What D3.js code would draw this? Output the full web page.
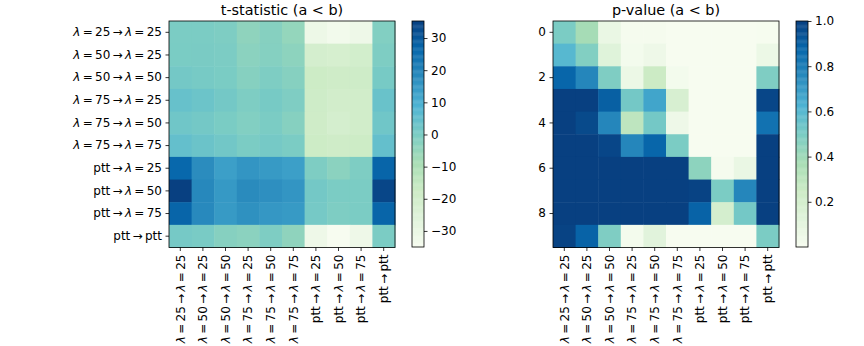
<!DOCTYPE html>
<html>
<head>
<meta charset="utf-8">
<script src="https://cdn.jsdelivr.net/npm/d3@7"></script>
<style>
  body { margin: 0; background: #fff; }
  text { font-family: "DejaVu Sans", sans-serif; fill: #000; }
</style>
</head>
<body>
<div id="app"></div>
<script>
`use strict`;

const labels = [
  `λ = 25 → λ = 25`, `λ = 50 → λ = 25`, `λ = 50 → λ = 50`, `λ = 75 → λ = 25`, `λ = 75 → λ = 50`,
  `λ = 75 → λ = 75`, `ptt → λ = 25`, `ptt → λ = 50`, `ptt → λ = 75`, `ptt → ptt`
];

const tStat = [
  [0.2, 0.1, -0.5, -3.7, -2.0, -4.8, -31.1, -33.2, -31.5, -1.3],
  [0.3, 0.4, 0.0, -3.0, -1.9, -3.4, -21.0, -21.6, -20.2, -0.5],
  [1.6, 0.9, 0.3, -2.0, -0.5, -2.0, -18.0, -18.8, -18.5, 0.9],
  [4.0, 3.0, 1.6, -0.5, 0.9, -0.6, -18.5, -20.0, -19.5, 3.7],
  [2.3, 1.6, 0.3, -1.3, 0.1, -2.0, -18.8, -21.0, -19.5, 2.3],
  [4.7, 3.3, 1.9, 0.2, 1.2, 0.1, -18.0, -18.8, -18.0, 4.7],
  [26.5, 17.7, 13.5, 15.6, 14.6, 13.5, -0.5, -3.0, -0.5, 27.2],
  [35.3, 18.8, 14.9, 18.0, 17.0, 15.6, 1.6, 0.2, 0.2, 33.9],
  [27.2, 18.4, 14.6, 16.7, 15.3, 14.6, 1.2, -0.5, 0.2, 27.2],
  [1.2, 0.5, -2.0, -3.0, -0.5, -3.7, -31.5, -35.0, -31.5, 0.2]
];

const pValue = [
  [0.50, 0.38, 0.07, 0.01, 0.01, 0.00, 0.00, 0.00, 0.00, 0.005],
  [0.60, 0.48, 0.13, 0.02, 0.05, 0.00, 0.00, 0.00, 0.00, 0.06],
  [0.88, 0.77, 0.49, 0.06, 0.25, 0.02, 0.00, 0.00, 0.00, 0.49],
  [1.00, 1.00, 0.90, 0.52, 0.67, 0.18, 0.00, 0.00, 0.00, 0.98],
  [1.00, 0.97, 0.77, 0.30, 0.52, 0.05, 0.00, 0.00, 0.00, 0.84],
  [1.00, 1.00, 0.98, 0.77, 0.88, 0.50, 0.00, 0.00, 0.00, 1.00],
  [1.00, 1.00, 1.00, 1.00, 1.00, 1.00, 0.45, 0.01, 0.07, 1.00],
  [1.00, 1.00, 1.00, 1.00, 1.00, 1.00, 0.99, 0.50, 0.77, 1.00],
  [1.00, 1.00, 1.00, 1.00, 1.00, 1.00, 0.89, 0.20, 0.52, 1.00],
  [0.99, 0.89, 0.49, 0.02, 0.12, 0.00, 0.00, 0.00, 0.00, 0.50]
];

const tTicks = [-30, -20, -10, 0, 10, 20, 30];
const pTicks = [0.2, 0.4, 0.6, 0.8, 1.0];
const pRowTicks = [0, 2, 4, 6, 8];

// matplotlib GnBu anchors
const GnBu = [`#f7fcf0`, `#e0f3db`, `#ccebc5`, `#a8ddb5`, `#7bccc4`, `#4eb3d3`, `#2b8cbe`, `#0868ac`, `#084081`];

const cmap = d3.piecewise(d3.interpolateRgb, GnBu);

const W = 864, H = 346, FS = 12;

let SVG = d3.select(`#app`).append(`svg`).attr(`width`, W).attr(`height`, H);

let idx = d3.range(labels.length);

// mathtext-like: thin gap around = and →, italic lambda
function tokens (Sel, str) {

  Sel.text(null);

  str.split(` `).forEach((tok, i) => {
    Sel.append(`tspan`).attr(`dx`, i ? 2.3 : 0).style(`font-style`, tok === `λ` ? `italic` : null).text(tok);
  });
}

function heat (Obj) {

  let x = d3.scaleBand().domain(idx).range([Obj.x, Obj.x + 226]);
  let y = d3.scaleBand().domain(idx).range([21, 247.5]);

  let ext = d3.extent(Obj.data.flat());
  let color = d3.scaleLinear().domain(ext).range([0, 1]).clamp(true);

  let G = SVG.append(`g`);

  Obj.data.forEach((row, r) => {
    G.selectAll(null).data(row).enter().append(`rect`)
      .attr(`x`, (d, c) => x(c))
      .attr(`y`, y(r))
      .attr(`width`, x.bandwidth() + 0.5)
      .attr(`height`, y.bandwidth() + 0.5)
      .attr(`fill`, d => cmap(color(d)));
  });

  G.append(`rect`).attr(`x`, Obj.x).attr(`y`, 21).attr(`width`, 226).attr(`height`, 226.5)
    .attr(`fill`, `none`).attr(`stroke`, `#000`).attr(`stroke-width`, 0.8);

  let yAxis = d3.axisLeft(y).tickSize(3.5).tickPadding(3.5).tickSizeOuter(0);

  if (Obj.rows) yAxis.tickValues(Obj.rows);

  let YA = SVG.append(`g`).attr(`transform`, `translate(${Obj.x},0)`).call(yAxis);

  let XA = SVG.append(`g`).attr(`transform`, `translate(0,247.5)`).call(d3.axisBottom(x).tickSize(3.5).tickPadding(3.5).tickSizeOuter(0));

  [YA, XA].forEach(A => {
    A.select(`.domain`).remove();
    A.selectAll(`line`).attr(`stroke`, `#000`).attr(`stroke-width`, 0.8);
    A.selectAll(`text`).attr(`font-size`, FS).attr(`font-family`, `DejaVu Sans`).attr(`fill`, `#000`);
  });

  if (!Obj.rows) YA.selectAll(`text`).each(function (d) { tokens(d3.select(this), labels[d]) });

  XA.selectAll(`text`)
    .attr(`y`, 0).attr(`dy`, `0.35em`)
    .attr(`transform`, `translate(0,7) rotate(-90)`)
    .attr(`text-anchor`, `end`)
    .each(function (d) { tokens(d3.select(this), labels[d]) });

  SVG.append(`text`).attr(`x`, Obj.x + 113).attr(`y`, 14.5).attr(`text-anchor`, `middle`).attr(`font-size`, 14.4).text(Obj.title);

  // colorbar
  let cx = Obj.x + 243;
  let cy = d3.scaleLinear().domain(ext).range([247, 21]);

  let steps = d3.range(0, 256);
  SVG.append(`g`).selectAll(`rect`).data(steps).enter().append(`rect`)
    .attr(`x`, cx).attr(`width`, 12)
    .attr(`y`, s => cy(ext[0] + (ext[1] - ext[0]) * (s + 1) / 256))
    .attr(`height`, 226 / 256 + 0.4)
    .attr(`fill`, s => cmap((s + 0.5) / 256));

  SVG.append(`rect`).attr(`x`, cx).attr(`y`, 21).attr(`width`, 12).attr(`height`, 226)
    .attr(`fill`, `none`).attr(`stroke`, `#000`).attr(`stroke-width`, 0.8);

  let CA = SVG.append(`g`).attr(`transform`, `translate(${cx + 12},0)`)
    .call(d3.axisRight(cy).tickValues(Obj.ticks).tickSize(3.5).tickPadding(3.5).tickFormat(Obj.fmt));

  CA.select(`.domain`).remove();
  CA.selectAll(`line`).attr(`stroke`, `#000`).attr(`stroke-width`, 0.8);
  CA.selectAll(`text`).attr(`font-size`, FS).attr(`font-family`, `DejaVu Sans`).attr(`fill`, `#000`);
}

heat({x: 169, data: tStat, title: `t-statistic (a < b)`, ticks: tTicks, fmt: d => d3.format(`d`)(d).replace(`-`, `−`)});

heat({x: 553, data: pValue, title: `p-value (a < b)`, ticks: pTicks, fmt: d3.format(`.1f`), rows: pRowTicks});
</script>
</body>
</html>
